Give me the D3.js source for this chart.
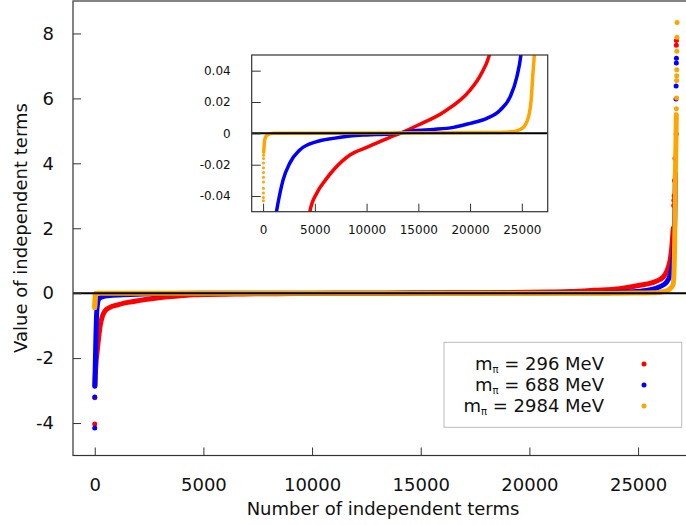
<!DOCTYPE html>
<html lang="en">
<head>
	<meta charset="utf-8">
	<title>Independent terms</title>
	<script src="https://d3js.org/d3.v7.min.js" charset="utf-8"></script>
	<style>
	body { margin: 0; background: #fff; }
	text { font-family: "DejaVu Sans", sans-serif; fill: #111; }
	</style>
</head>
<body>
<script>
// sorted values: [index, value]
// dense part of each series (drawn as a thick band)
var redCurve = [[8,-2.85],[30,-2.5],[70,-2.05],[110,-1.8],[150,-1.55],[250,-1.0],[350,-0.72],[460,-0.56],
	[700,-0.44],[1058,-0.36],[1400,-0.3],[1840,-0.25],[2500,-0.18],[3220,-0.12],[4000,-0.075],[4520,-0.05],
	[5197,-0.038],[6000,-0.03],[6800,-0.0234],[8390,-0.0138],[10000,-0.009],[12260,-0.0025],[13230,0],
	[15000,0.0053],[17500,0.0138],[20000,0.0276],[21000,0.037],[21870,0.05],[23000,0.09],[24150,0.14],
	[25076,0.245],[25800,0.36],[26150,0.49],[26457,0.95],[26550,1.4],[26620,2.0]];
var blueCurve = [[3,-2.87],[20,-2.4],[40,-1.8],[60,-1.2],[80,-0.75],[100,-0.5],[130,-0.32],[170,-0.2],
	[230,-0.15],[310,-0.12],[600,-0.08],[1290,-0.05],[1935,-0.0297],[2580,-0.019],[3550,-0.0106],
	[5170,-0.0053],[6780,-0.0032],[8390,-0.0017],[10000,-0.001],[12260,-0.0004],[13500,0.0005],
	[14520,0.0017],[16450,0.0025],[18390,0.0038],[20000,0.0064],[21620,0.0096],[22900,0.0148],
	[23870,0.0233],[24520,0.036],[24910,0.05],[25500,0.1],[26000,0.2],[26300,0.33],[26500,0.6],
	[26600,1.0],[26660,1.48],[26690,2.4],[26720,3.7]];
var orangeCurve = [[60,-0.012],[100,-0.008],[200,-0.003],[400,-0.001],[1000,0],[22000,0.0005],[24000,0.001],
	[24840,0.0025],[25320,0.0053],[25650,0.0106],[25900,0.021],[26070,0.038],[26200,0.05],[26400,0.1],
	[26610,0.26],[26660,0.8],[26680,1.43],[26700,2.5],[26720,3.8],[26740,4.5],[26760,5.5]];

// isolated points at both ends
var redLoose = [[0,-4.03],[1,-3.22],[26640,2.7],[26650,2.86],[26660,3.0],[26680,3.47],[26700,4.15],
	[26760,7.64],[26764,7.78]];
var blueLoose = [[0,-4.15],[1,-3.2],[26745,5.98],[26750,6.38],[26755,4.9],[26760,7.09],[26765,7.24]];
var orangeLoose = [[0,-0.45],[2,-0.42],[4,-0.39],[6,-0.36],[8,-0.33],[10,-0.3],[12,-0.27],[14,-0.24],
	[16,-0.21],[18,-0.18],[20,-0.15],[22,-0.12],[24,-0.09],[26,-0.065],[28,-0.043],[30,-0.041],[32,-0.038],
	[34,-0.035],[36,-0.031],[38,-0.028],[40,-0.025],[42,-0.022],[44,-0.019],[46,-0.016],[48,-0.014],
	[26765,5.68],[26770,6.01],[26774,6.55],[26777,6.7],[26780,6.88],[26785,7.45],[26790,7.88],[26795,8.34]];

var seriesNames = ["296", "688", "2984"];
var seriesColors = ["#ff0000", "#0000ff", "#ffa500"];

var xTicks = [0, 5000, 10000, 15000, 20000, 25000];
var yTicks = [-4, -2, 0, 2, 4, 6, 8];
var insetYTicks = [-0.04, -0.02, 0, 0.02, 0.04];

var series = [
	{ curve: redCurve, loose: redLoose, color: seriesColors[0] },
	{ curve: blueCurve, loose: blueLoose, color: seriesColors[1] },
	{ curve: orangeCurve, loose: orangeLoose, color: seriesColors[2] }
];

var w = 686, h = 525;
var svg = d3.select("body").append("svg")
	.attr("width", w)
	.attr("height", h);

// main panel scales
var x = d3.scaleLinear().domain([-1000, 27500]).range([73, 692.4]);
var y = d3.scaleLinear().domain([-5, 9]).range([455.5, 1]);

// inset scales
var ix = d3.scaleLinear().domain([-1100, 27500]).range([251.7, 547.7]);
var iy = d3.scaleLinear().domain([-0.05, 0.05]).range([211.7, 55]);

var defs = svg.append("defs");
defs.append("clipPath").attr("id", "mainClip").append("rect")
	.attr("x", 73).attr("y", 1).attr("width", 692.4 - 73).attr("height", 454.5);
defs.append("clipPath").attr("id", "insetClip").append("rect")
	.attr("x", 251.7).attr("y", 55).attr("width", 296).attr("height", 156.7);

function drawPanel(g, xs, ys, bandWidth, dotR) {
	var line = d3.line()
		.curve(d3.curveMonotoneX)
		.x(function(d) { return xs(d[0]); })
		.y(function(d) { return ys(d[1]); });
	series.forEach(function(s) {
		g.append("path")
			.datum(s.curve)
			.attr("d", line)
			.attr("fill", "none")
			.attr("stroke", s.color)
			.attr("stroke-width", bandWidth)
			.attr("stroke-linejoin", "round")
			.attr("stroke-linecap", "round");
		g.selectAll(null)
			.data(s.loose)
			.enter()
			.append("circle")
			.attr("cx", function(d) { return xs(d[0]); })
			.attr("cy", function(d) { return ys(d[1]); })
			.attr("r", dotR)
			.attr("fill", s.color);
	});
	// zero line
	g.append("line")
		.attr("x1", xs.range()[0]).attr("x2", xs.range()[1])
		.attr("y1", ys(0)).attr("y2", ys(0))
		.attr("stroke", "#000")
		.attr("stroke-width", 2);
}

// main data
var mainG = svg.append("g").attr("clip-path", "url(#mainClip)");
drawPanel(mainG, x, y, 5, 2.5);

// main frame
svg.append("rect")
	.attr("x", 73).attr("y", 1)
	.attr("width", 692.4 - 73).attr("height", 454.5)
	.attr("fill", "none")
	.attr("stroke", "#333")
	.attr("stroke-width", 1.2);

// main axes (ticks inward), plain hyphen for minus like the original
var xAxis = svg.append("g")
	.attr("transform", "translate(0,455.5)")
	.call(d3.axisBottom(x).tickValues(xTicks).tickFormat(function(d) { return String(d); })
		.tickSizeInner(-8).tickSizeOuter(0).tickPadding(23));
var yAxis = svg.append("g")
	.attr("transform", "translate(73,0)")
	.call(d3.axisLeft(y).tickValues(yTicks).tickFormat(function(d) { return String(d); })
		.tickSizeInner(-8).tickSizeOuter(0).tickPadding(19));
[xAxis, yAxis].forEach(function(a) {
	a.select(".domain").remove();
	a.selectAll("line").attr("stroke", "#333");
	a.selectAll("text").attr("font-size", 18).attr("font-family", "'DejaVu Sans', sans-serif").attr("fill", "#111");
});

// axis titles
svg.append("text")
	.attr("x", 383).attr("y", 515)
	.attr("text-anchor", "middle")
	.attr("font-size", 18)
	.text("Number of independent terms");
svg.append("text")
	.attr("transform", "translate(27,228) rotate(-90)")
	.attr("text-anchor", "middle")
	.attr("font-size", 18)
	.text("Value of independent terms");

// inset panel
svg.append("rect")
	.attr("x", 251.7).attr("y", 55).attr("width", 296).attr("height", 156.7)
	.attr("fill", "#fff");
var insetG = svg.append("g").attr("clip-path", "url(#insetClip)");
drawPanel(insetG, ix, iy, 3.5, 1.5);
svg.append("rect")
	.attr("x", 251.7).attr("y", 55).attr("width", 296).attr("height", 156.7)
	.attr("fill", "none")
	.attr("stroke", "#333")
	.attr("stroke-width", 1.2);

var ixAxis = svg.append("g")
	.attr("transform", "translate(0,211.7)")
	.call(d3.axisBottom(ix).tickValues(xTicks).tickFormat(function(d) { return String(d); })
		.tickSizeInner(-8).tickSizeOuter(0).tickPadding(14));
var iyAxis = svg.append("g")
	.attr("transform", "translate(251.7,0)")
	.call(d3.axisLeft(iy).tickValues(insetYTicks).tickSizeInner(-9).tickSizeOuter(0).tickPadding(21)
		.tickFormat(function(d) { return d === 0 ? "0" : d.toFixed(2); }));
[ixAxis, iyAxis].forEach(function(a) {
	a.select(".domain").remove();
	a.selectAll("line").attr("stroke", "#333");
	a.selectAll("text").attr("font-size", 12).attr("font-family", "'DejaVu Sans', sans-serif").attr("fill", "#111");
});

// legend
var legend = svg.append("g");
legend.append("rect")
	.attr("x", 444).attr("y", 342.3).attr("width", 237.7).attr("height", 85)
	.attr("fill", "#fff")
	.attr("stroke", "#bbb")
	.attr("stroke-width", 1);
seriesNames.forEach(function(name, i) {
	var t = legend.append("text")
		.attr("x", 604).attr("y", 370 + i * 21)
		.attr("text-anchor", "end")
		.attr("font-size", 18);
	t.append("tspan").text("m");
	t.append("tspan").attr("font-size", 10).attr("dy", 3).text("\u03c0");
	t.append("tspan").attr("dy", -3).text(" = " + name + " MeV");
	legend.append("circle")
		.attr("cx", 644).attr("cy", 364 + i * 21)
		.attr("r", 2.5)
		.attr("fill", seriesColors[i]);
});
</script>
</body>
</html>
